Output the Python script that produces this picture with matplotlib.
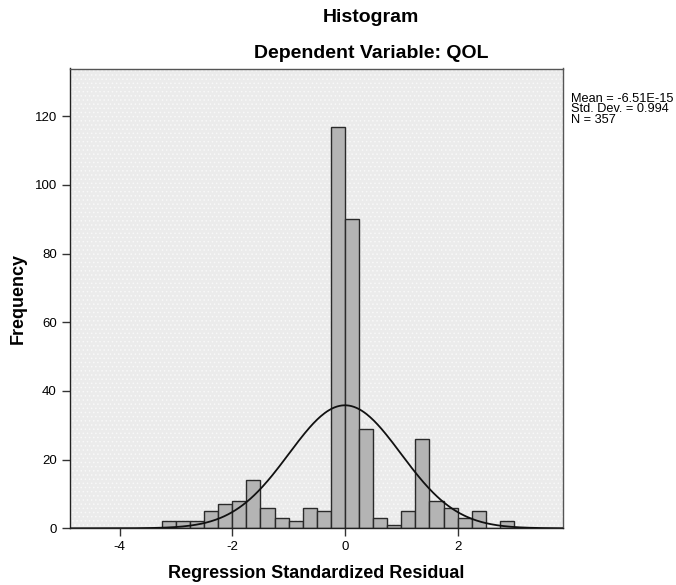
import matplotlib
matplotlib.use("Agg")
import matplotlib.pyplot as plt
from matplotlib.patches import Rectangle
import numpy as np

plt.rcParams['font.family'] = ['Liberation Sans', 'DejaVu Sans']
plt.rcParams['axes.unicode_minus'] = False
plt.rcParams['hatch.linewidth'] = 0.6

# histogram data (bin width 0.25, first bin starts at -3.25)
bin_start = -3.25
bin_width = 0.25
counts = [2, 2, 2, 5, 7, 8, 14, 6, 3, 2, 6, 5, 117,
          90, 29, 3, 1, 5, 26, 8, 6, 3, 5, 0, 2]

# summary statistics
mean_val = -6.51e-15
std_val = 0.994
n_val = 357

x_ticks = [-4, -2, 0, 2]
y_ticks = [0, 20, 40, 60, 80, 100, 120]

fig = plt.figure(figsize=(6.76, 5.85), dpi=100)
ax = fig.add_axes([70 / 676, 1 - 528.3 / 585, (563 - 70) / 676, (528.3 - 68.5) / 585])
ax.set_facecolor('#ebebeb')
# SPSS-style dotted background
ax.add_patch(Rectangle((0, 0), 1, 1, transform=ax.transAxes, facecolor='none',
                       edgecolor='#f8f8f8', hatch='....', linewidth=0, zorder=0))

edges = bin_start + bin_width * np.arange(len(counts))
ax.bar(edges, counts, width=bin_width, align='edge',
       color='#b4b4b4', edgecolor='#2a2a2a', linewidth=1.0, zorder=2)

# normal curve
xs = np.linspace(-4.88, 3.87, 400)
pdf = np.exp(-0.5 * ((xs - mean_val) / std_val) ** 2) / (std_val * np.sqrt(2 * np.pi))
ax.plot(xs, n_val * bin_width * pdf, color='#111111', linewidth=1.3, zorder=3)

ax.set_xlim(-4.88, 3.87)
ax.set_ylim(0, 133.9)
ax.set_xticks(x_ticks)
ax.set_yticks(y_ticks)
ax.tick_params(axis='both', labelsize=9.5, length=6, width=1, color='#333333', direction='out')
ax.tick_params(axis='x', pad=3)

for side in ['left', 'bottom']:
    ax.spines[side].set_color('#222222')
    ax.spines[side].set_linewidth(1.0)
for side in ['top', 'right']:
    ax.spines[side].set_color('#555555')
    ax.spines[side].set_linewidth(1.0)

ax.set_xlabel('Regression Standardized Residual', fontsize=13, fontweight='bold', va='center')
ax.set_ylabel('Frequency', fontsize=13, fontweight='bold', va='center', ha='center')
ax.xaxis.set_label_coords(0.5, (528.3 - 573) / 459.8)
ax.yaxis.set_label_coords((18 - 70) / 493, 0.5)

fig.text(371 / 676, 1 - 18 / 585, 'Histogram', ha='center', va='center',
         fontsize=14, fontweight='bold')
fig.text(371 / 676, 1 - 53 / 585, 'Dependent Variable: QOL', ha='center', va='center',
         fontsize=14, fontweight='bold')

stats = 'Mean = -6.51E-15\nStd. Dev. = 0.994\nN = 357'
fig.text(571 / 676, 1 - 93 / 585, stats, ha='left', va='top', fontsize=9.2,
         linespacing=0.82)

fig.savefig('out.png', dpi=100)
